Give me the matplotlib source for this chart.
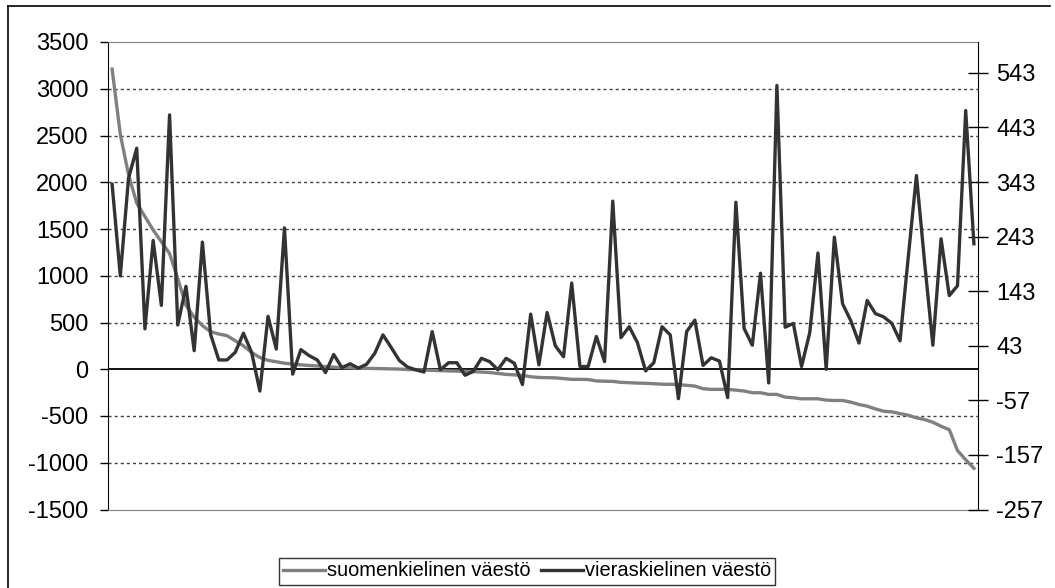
import numpy as np
import matplotlib.pyplot as plt
from matplotlib.lines import Line2D

plt.rcParams['font.family'] = ['Liberation Sans', 'DejaVu Sans']
plt.rcParams['axes.unicode_minus'] = False

# Väestönmuutos kunnittain, lajiteltu suomenkielisen väestön mukaan
suomi = [3210, 2513, 2082, 1777, 1633, 1490, 1364, 1238, 969, 682,
         557, 467, 402, 377, 359, 305, 251, 179, 126, 95,
         80, 65, 55, 47, 40, 35, 28, 22, 18, 15,
         12, 10, 8, 6, 4, 2, -3, -5, -8, -12,
         -15, -18, -20, -22, -25, -30, -35, -45, -55, -60,
         -65, -80, -88, -90, -92, -100, -108, -108, -110, -125,
         -128, -130, -140, -144, -148, -150, -155, -160, -161, -165,
         -172, -180, -208, -215, -215, -215, -223, -233, -251, -251,
         -269, -269, -298, -305, -316, -316, -316, -330, -334, -334,
         -352, -377, -395, -424, -449, -456, -474, -492, -520, -538,
         -567, -610, -646, -869, -969, -1059]

vieras = [339, 171, 350, 405, 74, 236, 117, 466, 81, 152,
          34, 233, 64, 17, 17, 31, 66, 31, -40, 97,
          37, 259, -9, 36, 25, 17, -6, 27, 3, 10,
          2, 9, 29, 63, 40, 16, 4, -1, -5, 69,
          -1, 12, 12, -11, -4, 20, 14, -1, 20, 11,
          -28, 101, 8, 104, 43, 23, 158, 5, 5, 60,
          14, 308, 58, 78, 49, -3, 12, 78, 63, -54,
          69, 90, 7, 21, 15, -52, 306, 75, 44, 176,
          -25, 520, 77, 84, 5, 67, 213, 0, 242, 120,
          89, 48, 126, 102, 96, 84, 52, 205, 355, 195,
          44, 239, 135, 153, 474, 230]

left_ticks = [-1500, -1000, -500, 0, 500, 1000, 1500, 2000, 2500, 3000, 3500]
right_ticks = [-257, -157, -57, 43, 143, 243, 343, 443, 543]

x = np.arange(1, len(suomi) + 1)

fig = plt.figure(figsize=(10.55, 5.88), dpi=100)
ax = fig.add_axes([108 / 1055, 1 - 509.5 / 588, 870 / 1055, 467.5 / 588])
ax2 = ax.twinx()

ax.plot(x, suomi, color='#808080', lw=2.4, label='suomenkielinen väestö', solid_joinstyle='round')
ax2.plot(x, vieras, color='#333333', lw=2.4, label='vieraskielinen väestö', solid_joinstyle='round')

ax.set_xlim(0.5, len(suomi) + 0.5)
ax.set_ylim(-1500, 3500)
ax2.set_ylim(-257, 257 * 3500 / 1500)
ax.set_xticks([])
ax.set_yticks(left_ticks)
ax2.set_yticks(right_ticks)

for t in left_ticks[1:-1]:
    if t != 0:
        ax.axhline(t, color='#404040', lw=1.0, ls=(0, (2.2, 2.2)), zorder=0)
ax.axhline(0, color='black', lw=1.3, zorder=1)

ax.tick_params(axis='y', direction='out', length=6, width=1, pad=8, labelsize=17)
ax2.tick_params(axis='y', direction='inout', length=14, width=1, pad=6, labelsize=17)

for s in ['top', 'bottom']:
    ax.spines[s].set_color('#808080')
    ax2.spines[s].set_visible(False)
ax.spines['right'].set_visible(False)
ax2.spines['left'].set_visible(False)
ax.spines['left'].set_color('black')
ax2.spines['right'].set_color('black')

h1, l1 = ax.get_legend_handles_labels()
h2, l2 = ax2.get_legend_handles_labels()
leg = fig.legend(h1 + h2, l1 + l2, loc='center', bbox_to_anchor=(527 / 1055, 1 - 571 / 588),
                 ncol=2, fontsize=14.4, frameon=True, fancybox=False, edgecolor='black',
                 handlelength=2.1, handletextpad=0.1, columnspacing=0.5,
                 borderpad=0.2, borderaxespad=0)
leg.get_frame().set_linewidth(1.0)

# kaavion reunaviivat
fig.add_artist(Line2D([7.5 / 1055, 1050 / 1055], [1 - 5.5 / 588, 1 - 5.5 / 588],
                      transform=fig.transFigure, color='black', lw=1.2))
fig.add_artist(Line2D([7.5 / 1055, 7.5 / 1055], [1 - 5.5 / 588, 0],
                      transform=fig.transFigure, color='black', lw=1.2))

fig.savefig('out.png', dpi=100)
